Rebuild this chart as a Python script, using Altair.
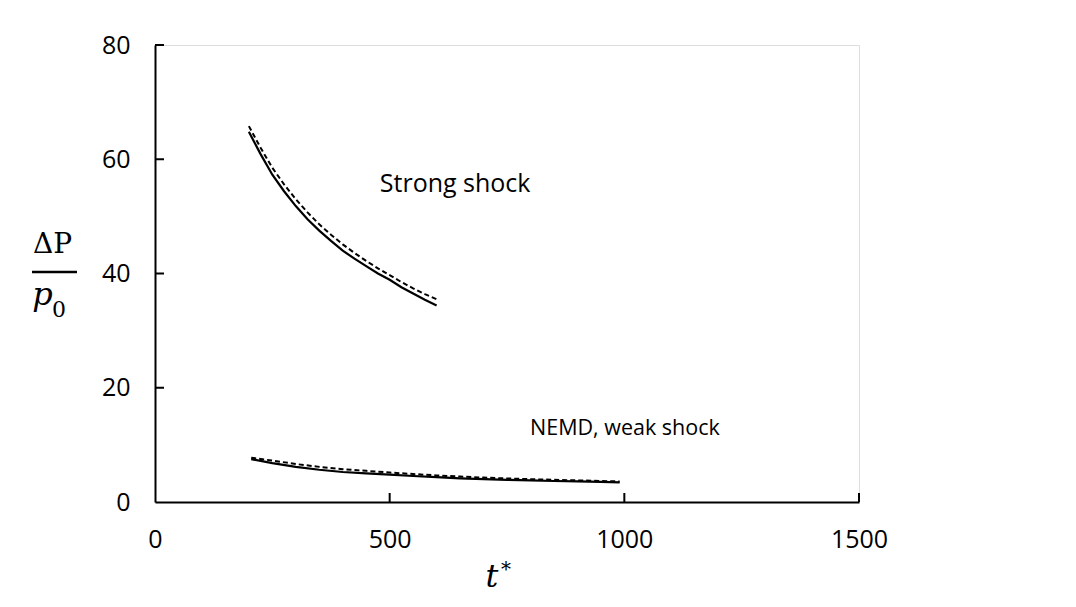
import altair as alt
import pandas as pd

# ---- data ----
strong_t = [200, 225, 250, 275, 300, 325, 350, 375, 400, 425, 450, 475, 500, 525, 550, 575, 600]
strong_solid = [64.8, 60.9, 57.3, 54.4, 51.8, 49.5, 47.5, 45.7, 44.0, 42.6, 41.3, 40.0, 38.9, 37.6, 36.5, 35.4, 34.4]
strong_dashed = [65.8, 62.0, 58.5, 55.6, 53.0, 50.7, 48.6, 46.8, 45.1, 43.6, 42.2, 40.9, 39.7, 38.5, 37.4, 36.4, 35.5]

weak_t = [205, 250, 300, 350, 400, 450, 500, 550, 600, 650, 700, 750, 800, 850, 900, 950, 990]
weak_solid = [7.5, 6.8, 6.15, 5.65, 5.25, 5.0, 4.8, 4.55, 4.35, 4.15, 4.0, 3.88, 3.78, 3.68, 3.6, 3.52, 3.45]
weak_dashed = [7.75, 7.25, 6.65, 6.15, 5.75, 5.45, 5.15, 4.9, 4.65, 4.45, 4.27, 4.12, 4.0, 3.88, 3.78, 3.68, 3.6]

x_ticks = [0, 500, 1000, 1500]
y_ticks = [0, 20, 40, 60, 80]

annot_text = ["Strong shock", "NEMD, weak shock"]
annot_x = [479, 799]
annot_y = [54.2, 11.8]
annot_size = [25, 21.5]

y_title_num = "ΔP"
y_title_den = "p"
y_title_sub = "0"
x_title_main = "t"
x_title_sup = "*"

W, H = 704, 457

rows = []
for t, v in zip(strong_t, strong_solid):
    rows.append({"t": t, "v": v, "grp": "strong_solid"})
for t, v in zip(weak_t, weak_solid):
    rows.append({"t": t, "v": v, "grp": "weak_solid"})
solid_df = pd.DataFrame(rows)

rows = []
for t, v in zip(strong_t, strong_dashed):
    rows.append({"t": t, "v": v, "grp": "strong_dashed"})
for t, v in zip(weak_t, weak_dashed):
    rows.append({"t": t, "v": v, "grp": "weak_dashed"})
dashed_df = pd.DataFrame(rows)

xs = alt.Scale(domain=[0, 1500], nice=False)
ys = alt.Scale(domain=[0, 80], nice=False)

label_font = "Open Sans"

base_x = alt.X("t:Q", scale=xs, axis=alt.Axis(values=x_ticks, ticks=False, tickSize=0, grid=False,
                                             title=None, labelFont=label_font, labelFontSize=25,
                                             labelColor="#000000", labelPadding=25, domainColor="#000000",
                                             domainWidth=2, labelFlush=False, format="d"))
base_y = alt.Y("v:Q", scale=ys, axis=alt.Axis(values=y_ticks, ticks=False, tickSize=0, grid=False,
                                             title=None, labelFont=label_font, labelFontSize=25,
                                             labelColor="#000000", labelPadding=25, domainColor="#000000",
                                             domainWidth=2, labelFlush=False, format="d"))

solid = alt.Chart(solid_df).mark_line(color="#000000", strokeWidth=2.2).encode(
    x=base_x, y=base_y, detail="grp:N")

dashed = alt.Chart(dashed_df).mark_line(color="#000000", strokeWidth=2, strokeDash=[5, 3]).encode(
    x="t:Q", y="v:Q", detail="grp:N")

# inward tick marks
xt_df = pd.DataFrame({"t": x_ticks[1:]})
xticks = alt.Chart(xt_df).mark_rule(color="#000000", strokeWidth=2).encode(
    x="t:Q", y=alt.value(H), y2=alt.value(H - 9))
yt_df = pd.DataFrame({"v": y_ticks[1:]})
yticks = alt.Chart(yt_df).mark_rule(color="#000000", strokeWidth=2).encode(
    y="v:Q", x=alt.value(0), x2=alt.value(9))

ann_df = pd.DataFrame({"t": annot_x, "v": annot_y, "txt": annot_text, "sz": annot_size})
ann = alt.Chart(ann_df).mark_text(align="left", baseline="alphabetic", font=label_font,
                                  color="#000000").encode(
    x="t:Q", y="v:Q", text="txt:N",
    size=alt.Size("sz:Q", scale=None, legend=None))

def ptext(txt, x, y, size, style="normal", font="DejaVu Serif"):
    return alt.Chart(pd.DataFrame({"s": [txt]})).mark_text(
        align="center", baseline="alphabetic", font=font, fontSize=size,
        fontStyle=style, color="#000000").encode(
        x=alt.value(x), y=alt.value(y), text="s:N")

t_num = ptext(y_title_num, -102.5, 208, 28)
t_den = ptext(y_title_den, -112.5, 260, 32, "italic")
t_sub = ptext(y_title_sub, -96, 272, 22)
frac = alt.Chart(pd.DataFrame({"a": [0]})).mark_rule(color="#000000", strokeWidth=2.5).encode(
    x=alt.value(-123), x2=alt.value(-78), y=alt.value(227))
t_x = ptext(x_title_main, 337, 542, 32, "italic")
t_xs = ptext(x_title_sup, 351, 531, 20)

chart = alt.layer(solid, dashed, xticks, yticks, ann, t_num, t_den, t_sub, frac, t_x, t_xs).properties(
    width=W, height=H,
    autosize=alt.AutoSizeParams(type="none"),
    padding={"left": 147, "top": 37, "right": 200, "bottom": 96},
).configure_view(strokeWidth=0).configure(background="#ffffff")

chart.save("out.html", embed_options={"renderer": "svg", "actions": False})
